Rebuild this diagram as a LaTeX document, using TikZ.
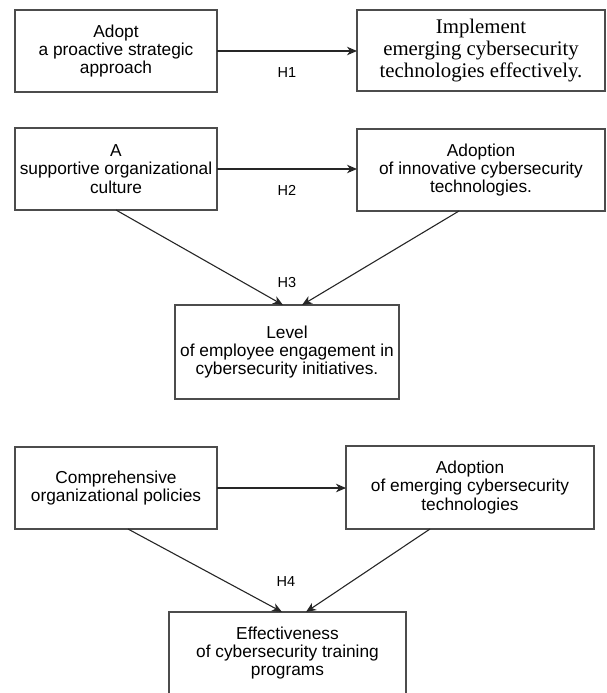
\documentclass[tikz,border=0pt]{standalone}
\usepackage{fontspec}
\setmainfont{Liberation Sans}
\newfontfamily\serifbox{Liberation Serif}
\usetikzlibrary{arrows.meta, calc}

\tikzset{
  varbox/.style={draw=black!70, line width=1.1pt, inner sep=0pt, outer sep=0pt,
    align=center, minimum height=82pt, font=\fontsize{17.3}{18.3}\selectfont},
  hyplink/.style={draw=black!85, line width=1.1pt,
    -{Stealth[length=10pt,width=8.5pt,inset=3pt]}},
  hyplabel/.style={inner sep=0pt, font=\fontsize{14.5}{16}\selectfont}
}

\begin{document}
\begin{tikzpicture}[x=1pt, y=-1pt]

\useasboundingbox (0,0) rectangle (607,693);
\clip (0,0) rectangle (607,693);

%% H1
\node[varbox, minimum width=202pt] (proactive) at (116,51)
  {Adopt\\a proactive strategic\\approach};
\node[varbox, minimum width=248pt, minimum height=81pt,
  font=\serifbox\fontsize{20.8}{22}\selectfont] (implement) at (481,50.5)
  {Implement\\emerging cybersecurity\\technologies effectively.};
\draw[hyplink] (proactive.east) -- (proactive.east -| implement.west);
\node[hyplabel] (lblH1) at (287,73) {H1};

%% H2 and H3
\node[varbox, minimum width=202pt] (culture) at (116,169)
  {A\\supportive organizational\\culture};
\node[varbox, minimum width=248pt] (innovative) at (481,170)
  {Adoption\\of innovative cybersecurity\\technologies.};
\draw[hyplink] (culture.east) -- (culture.east -| innovative.west);
\node[hyplabel] (lblH2) at (287,190) {H2};

\node[varbox, minimum width=224pt, minimum height=94pt] (engagement) at (287,352)
  {Level\\of employee engagement in\\cybersecurity initiatives.};
\draw[hyplink] (culture.south) -- ([xshift=-4pt]engagement.north);
\draw[hyplink] ([xshift=-22pt]innovative.south) -- ([xshift=15pt]engagement.north);
\node[hyplabel] (lblH3) at (287,283) {H3};

%% H4
\node[varbox, minimum width=202pt] (policies) at (116,488)
  {Comprehensive\\organizational policies};
\node[varbox, minimum width=248pt, minimum height=83pt] (emerging) at (470,487.5)
  {Adoption\\of emerging cybersecurity\\technologies};
\draw[hyplink] (policies.east) -- (policies.east -| emerging.west);

% la caja de abajo queda cortada por el borde de la figura
\node[varbox, minimum width=237pt] (training) at (287.5,653)
  {Effectiveness\\of cybersecurity training\\programs};
\draw[hyplink] ([xshift=12pt]policies.south) -- ([xshift=-5.5pt]training.north);
\draw[hyplink] ([xshift=-40pt]emerging.south) -- ([xshift=18.5pt]training.north);
\node[hyplabel] (lblH4) at (286,582) {H4};

\end{tikzpicture}
\end{document}
